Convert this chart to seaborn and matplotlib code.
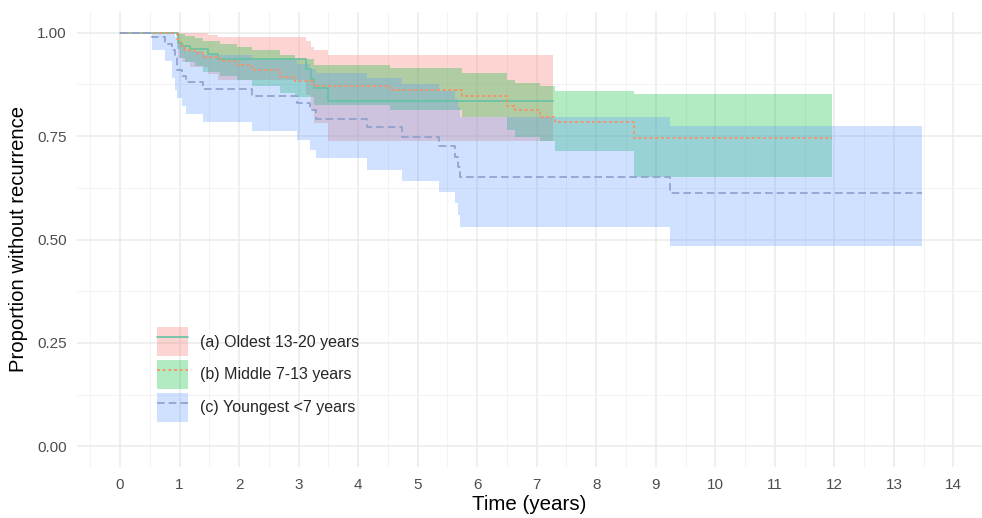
import numpy as np
import pandas as pd
import matplotlib
matplotlib.use("Agg")
import matplotlib.pyplot as plt
import seaborn as sns
from matplotlib.patches import Patch
from matplotlib.lines import Line2D
from matplotlib.ticker import MultipleLocator, FixedLocator

# ---- data ----
groups = ["(a) Oldest 13-20 years", "(b) Middle 7-13 years", "(c) Youngest <7 years"]

old_time = [0, 0.98, 1.04, 1.18, 1.48, 1.65, 3.12, 3.20, 3.25, 3.50, 7.28]
old_surv = [1.0, 0.975, 0.968, 0.960, 0.949, 0.936, 0.912, 0.888, 0.866, 0.835, 0.835]
old_upper = [1.0, 1.0, 1.0, 1.0, 0.995, 0.989, 0.979, 0.965, 0.957, 0.947, 0.947]
old_lower = [1.0, 0.94, 0.93, 0.918, 0.90, 0.886, 0.85, 0.815, 0.782, 0.738, 0.738]

mid_time = [0, 0.96, 1.01, 1.09, 1.26, 1.40, 1.68, 1.96, 2.21, 2.69, 2.94, 3.25,
            4.54, 5.74, 6.50, 6.64, 7.06, 7.30, 8.64, 11.96]
mid_surv = [1.0, 0.985, 0.968, 0.959, 0.951, 0.941, 0.932, 0.922, 0.910, 0.893, 0.882, 0.870,
            0.862, 0.846, 0.823, 0.812, 0.797, 0.783, 0.745, 0.745]
mid_upper = [1.0, 1.0, 0.997, 0.993, 0.987, 0.979, 0.972, 0.965, 0.957, 0.947, 0.937, 0.922,
             0.914, 0.902, 0.886, 0.878, 0.870, 0.860, 0.852, 0.852]
mid_lower = [1.0, 0.96, 0.94, 0.93, 0.92, 0.905, 0.895, 0.885, 0.87, 0.855, 0.845, 0.826,
             0.814, 0.795, 0.765, 0.749, 0.737, 0.713, 0.652, 0.652]

yng_time = [0, 0.53, 0.76, 0.87, 0.92, 0.96, 1.04, 1.11, 1.40, 2.21, 2.97, 3.19, 3.30,
            4.15, 4.73, 5.35, 5.63, 5.68, 5.71, 9.24, 13.47]
yng_surv = [1.0, 0.989, 0.973, 0.959, 0.945, 0.910, 0.895, 0.880, 0.864, 0.847, 0.830, 0.814,
            0.791, 0.771, 0.747, 0.725, 0.700, 0.676, 0.652, 0.613, 0.613]
yng_upper = [1.0, 1.0, 1.0, 0.997, 0.99, 0.975, 0.965, 0.955, 0.945, 0.935, 0.925, 0.912,
             0.902, 0.89, 0.875, 0.86, 0.84, 0.82, 0.797, 0.775, 0.775]
yng_lower = [1.0, 0.959, 0.931, 0.89, 0.862, 0.842, 0.823, 0.804, 0.783, 0.763, 0.741, 0.717,
             0.697, 0.668, 0.642, 0.616, 0.588, 0.559, 0.531, 0.485, 0.485]

x_ticks = list(range(0, 15))
y_ticks = [0.0, 0.25, 0.5, 0.75, 1.0]
y_tick_labels = ["0.00", "0.25", "0.50", "0.75", "1.00"]

# ---- styling ----
fill_colors = ["#F8766D", "#00BA38", "#619CFF"]
line_colors = ["#66C2A5", "#FC8D62", "#8DA0CB"]
dash_styles = ["", (1.8, 1.6), (4.6, 2.4)]

sns.set_theme(style="white")
plt.rcParams["font.family"] = ["Liberation Sans", "DejaVu Sans"]

frames = []
series = [(old_time, old_surv, old_lower, old_upper),
          (mid_time, mid_surv, mid_lower, mid_upper),
          (yng_time, yng_surv, yng_lower, yng_upper)]
for g, (t, s, lo, hi) in zip(groups, series):
    frames.append(pd.DataFrame({"time": t, "surv": s, "lower": lo, "upper": hi, "group": g}))
df = pd.concat(frames, ignore_index=True)

fig = plt.figure(figsize=(9.82, 5.18), dpi=100)
ax = fig.add_axes([76.7 / 982, 1 - 467 / 518, 1 - 76.7 / 982, (467 - 12) / 518])

# ribbons
for g, fc in zip(groups, fill_colors):
    d = df[df["group"] == g]
    ax.fill_between(d["time"], d["lower"], d["upper"], step="post",
                    color=fc, alpha=0.3, linewidth=0, zorder=2)

# step lines
sns.lineplot(data=df, x="time", y="surv", hue="group", style="group",
             palette=dict(zip(groups, line_colors)),
             dashes=dict(zip(groups, dash_styles)),
             hue_order=groups, style_order=groups,
             estimator=None, sort=True, drawstyle="steps-post",
             linewidth=1.2, legend=False, ax=ax, zorder=3)

ax.set_xlim(-0.728, 14.48)
ax.set_ylim(-0.05, 1.05)
ax.xaxis.set_major_locator(FixedLocator(x_ticks))
ax.xaxis.set_minor_locator(MultipleLocator(0.5))
ax.yaxis.set_major_locator(FixedLocator(y_ticks))
ax.set_yticklabels(y_tick_labels)
ax.yaxis.set_minor_locator(MultipleLocator(0.125))
ax.grid(which="major", color="#EBEBEB", linewidth=1.1, zorder=0)
ax.grid(which="minor", color="#F3F3F3", linewidth=0.7, zorder=0)
ax.set_axisbelow(True)
for sp in ax.spines.values():
    sp.set_visible(False)
ax.tick_params(which="both", length=0, labelsize=11, labelcolor="#4D4D4D")
ax.tick_params(axis="y", pad=7)
ax.tick_params(axis="x", pad=8)

ax.set_xlabel("Time (years)", fontsize=14.8, color="black", labelpad=2)
ax.set_ylabel("Proportion without recurrence", fontsize=14.6, color="black", labelpad=7)

handles = []
for fc, lc, ds in zip(fill_colors, line_colors, dash_styles):
    p = Patch(facecolor=fc, alpha=0.3, edgecolor="none")
    if ds == "":
        l = Line2D([], [], color=lc, lw=1.2)
    else:
        l = Line2D([], [], color=lc, lw=1.2, dashes=ds)
    handles.append((p, l))
fig.legend(handles, groups, loc="upper left",
           bbox_to_anchor=(157 / 982, 1 - 327 / 518), bbox_transform=fig.transFigure,
           frameon=False, fontsize=11.5, borderpad=0, borderaxespad=0,
           handlelength=1.94, handleheight=2.45, handletextpad=0.75, labelspacing=0.22)

fig.savefig("out.png", dpi=100)
